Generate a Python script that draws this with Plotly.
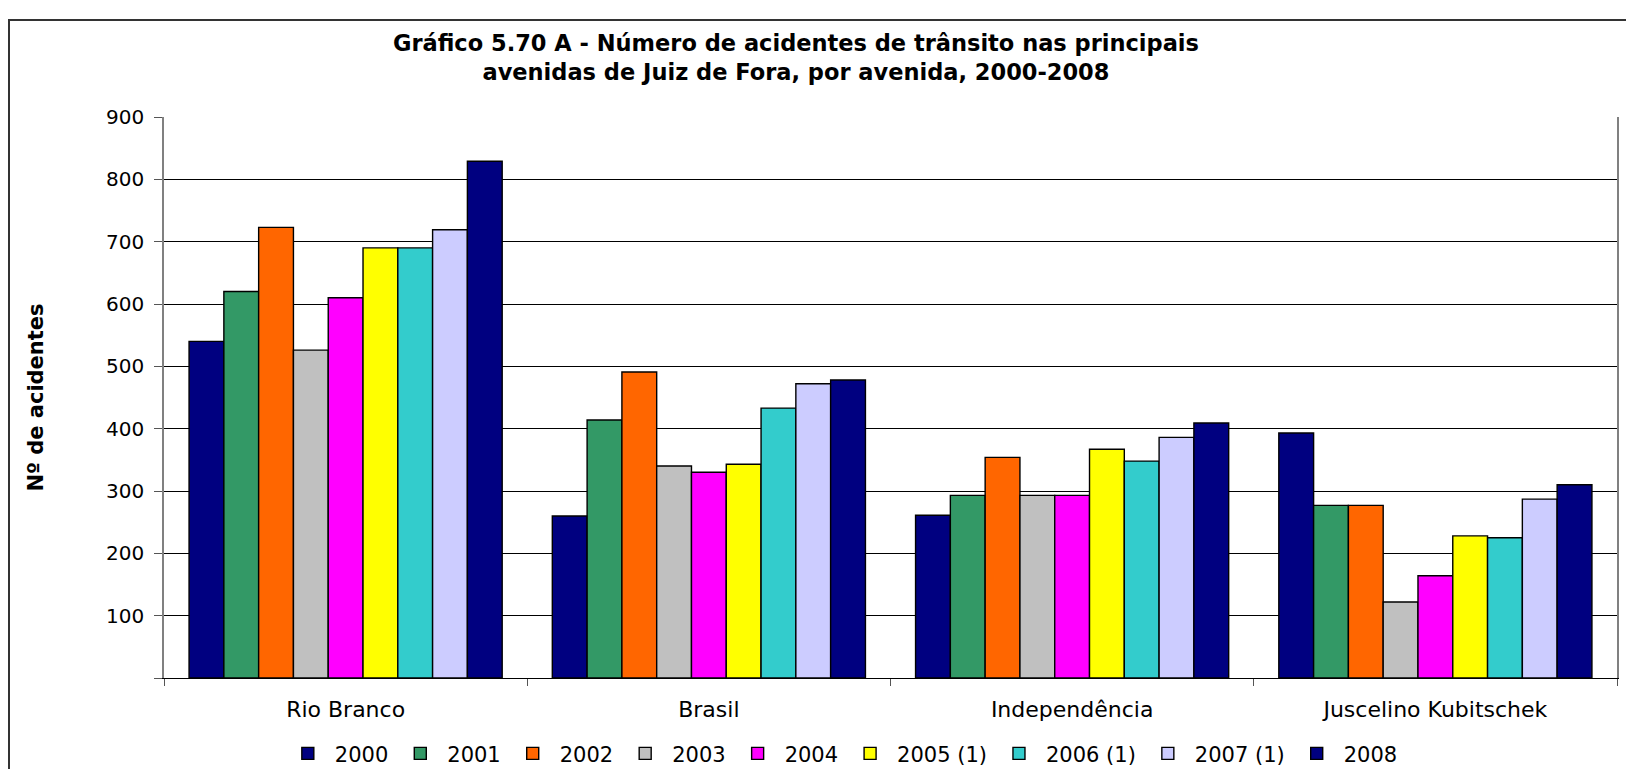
import plotly.graph_objects as go

categories = ["Rio Branco", "Brasil", "Independência", "Juscelino Kubitschek"]
series_names = ["2000", "2001", "2002", "2003", "2004", "2005 (1)", "2006 (1)", "2007 (1)", "2008"]
series_colors = ["#000080", "#339966", "#FF6600", "#C0C0C0", "#FF00FF", "#FFFF00", "#33CCCC", "#CCCCFF", "#000080"]

v2000 = [540, 260, 261, 393]
v2001 = [620, 414, 293, 277]
v2002 = [723, 491, 354, 277]
v2003 = [526, 340, 293, 122]
v2004 = [610, 330, 293, 164]
v2005 = [690, 343, 367, 228]
v2006 = [690, 433, 348, 225]
v2007 = [719, 472, 386, 287]
v2008 = [829, 478, 409, 310]
series_values = [v2000, v2001, v2002, v2003, v2004, v2005, v2006, v2007, v2008]

y_tick_values = [0, 100, 200, 300, 400, 500, 600, 700, 800, 900]
y_tick_labels = ["", "100", "200", "300", "400", "500", "600", "700", "800", "900"]

title_text = ("Gráfico 5.70 A - Número de acidentes de trânsito nas principais<br>"
              "avenidas de Juiz de Fora, por avenida, 2000-2008")
y_title = "Nº de acidentes"

FONT = "DejaVu Sans"

fig = go.Figure()
for name, vals, col in zip(series_names, series_values, series_colors):
    fig.add_trace(go.Bar(
        name=name, x=categories, y=vals,
        marker=dict(color=col, line=dict(color="#000000", width=1.4)),
    ))

# The page body has an 8px margin, so the figure is sized to fit the window exactly.
fig.update_layout(
    width=1618, height=761,
    paper_bgcolor="white", plot_bgcolor="white",
    margin=dict(l=156, r=9, t=109, b=91, autoexpand=False),
    barmode="group", bargap=0.138, bargroupgap=0,
    font=dict(family=FONT, size=20, color="black"),
    title=dict(text=title_text, x=0.487, xanchor="center", y=0.944, yanchor="middle",
               font=dict(family=FONT, size=22.5, color="black", weight="bold")),
    showlegend=True,
    legend=dict(orientation="h", x=0.4665, xanchor="center", y=-0.135, yanchor="middle",
                font=dict(family=FONT, size=21, color="black"),
                itemwidth=44, traceorder="normal", bgcolor="rgba(0,0,0,0)"),
    xaxis=dict(
        automargin=False,
        showgrid=False, showline=True, linecolor="black", linewidth=1,
        ticks="outside", tickson="boundaries", ticklen=7, tickcolor="#555555",
        tickfont=dict(family=FONT, size=22, color="black"), ticklabelstandoff=12,
    ),
    yaxis=dict(
        automargin=False,
        range=[0, 900], tickvals=y_tick_values, ticktext=y_tick_labels,
        showgrid=True, gridcolor="black", gridwidth=1,
        showline=True, linecolor="#808080", linewidth=1.5, mirror=True,
        ticks="outside", ticklen=8, tickcolor="#555555",
        zeroline=False,
        tickfont=dict(family=FONT, size=20, color="black"), ticklabelstandoff=6,
        title=dict(text="<b>" + y_title + "</b>", standoff=57,
                   font=dict(family=FONT, size=21, color="black")),
    ),
)

# outer chart border
fig.add_shape(type="rect", xref="paper", yref="paper",
              x0=(1 - 156) / 1453, x1=1.05, y0=-0.3, y1=(670 - 12) / 561,
              line=dict(color="#333333", width=2), fillcolor="rgba(0,0,0,0)", layer="below")

fig.write_html("out.html")
